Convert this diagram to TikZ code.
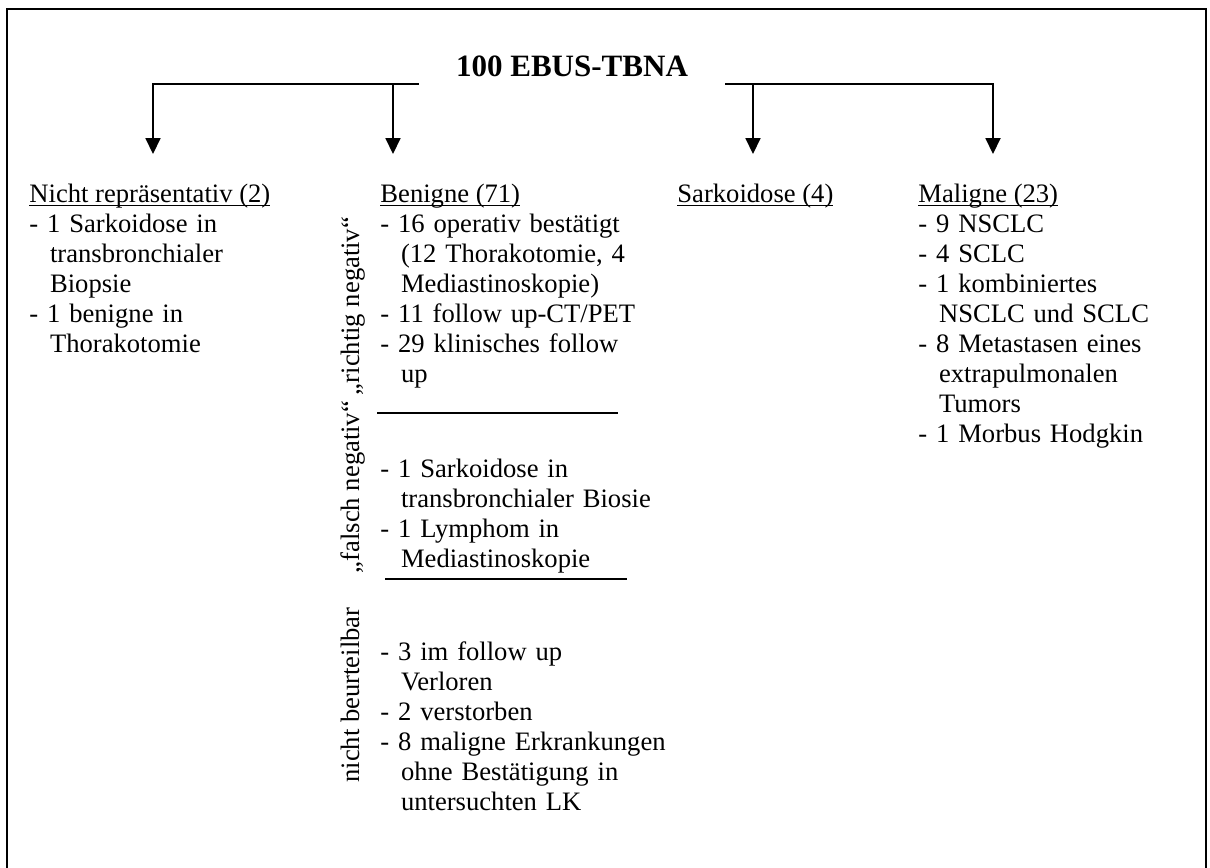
\documentclass[tikz,border=0pt]{standalone}
\usepackage{fontspec}
\setmainfont{Liberation Serif}
\usepackage{tikz}
\usetikzlibrary{arrows.meta,positioning}
\newcommand{\txt}{\fontsize{12}{13.55}\selectfont}
\newcommand{\contind}{\hspace*{9.3pt}}
\newcommand{\headline}[1]{\underline{\smash{#1}}}
\tikzstyle{title} = [anchor=base, inner xsep=16.7pt, inner ysep=3.2pt, font=\bfseries\fontsize{14}{16}\selectfont]
\tikzstyle{head} = [anchor=base west, inner sep=0pt, font=\txt]
\tikzstyle{items} = [anchor=base west, inner sep=0pt, text width=150pt, align=left, font=\txt]
\tikzstyle{side} = [rotate=90, anchor=base, inner sep=0pt, font=\txt]
\tikzstyle{tedge} = [draw, line width=0.7pt, >={Triangle[width=6.8pt,length=7.2pt]}, ->]
\tikzstyle{divider} = [draw, line width=0.8pt]
\tikzstyle{outline} = [draw, line width=0.9pt]

\begin{document}
\begin{tikzpicture}[x=0.451pt, y=-0.451pt]
\useasboundingbox (0,0) rectangle (1210,868);
\draw[outline] (7,868) -- (7,9) -- (1206,9) -- (1206,868);

% root =============================
\node[title] (root) at (572,76) {100 EBUS-TBNA};

% arrow ends
\coordinate (a1) at (153,154);
\coordinate (a2) at (393,154);
\coordinate (a3) at (753,154);
\coordinate (a4) at (993,154);

% nicht repraesentativ
\node[head] (nrep) at (29,202) {\headline{Nicht repräsentativ (2)}};
\node[items, below=13.55pt of nrep.base west, anchor=base west] (nreplist) {- 1 Sarkoidose in\\ \contind transbronchialer\\ \contind Biopsie\\ - 1 benigne in\\ \contind Thorakotomie};

% benigne
\node[head] (benigne) at (380,202) {\headline{Benigne (71)}};
\node[items, below=13.55pt of benigne.base west, anchor=base west] (richtig) {- 16 operativ bestätigt\\ \contind (12 Thorakotomie, 4\\ \contind Mediastinoskopie)\\ - 11 follow up-CT/PET\\ - 29 klinisches follow\\ \contind up};
\node[items] (falsch) at (380,477) {- 1 Sarkoidose in\\ \contind transbronchialer Biosie\\ - 1 Lymphom in\\ \contind Mediastinoskopie};
\node[items] (nbeur) at (380,660) {- 3 im follow up\\ \contind Verloren\\ - 2 verstorben\\ - 8 maligne Erkrankungen\\ \contind ohne Bestätigung in\\ \contind untersuchten LK};

\node[side] (lrichtig) at (359,306) {„richtig negativ“};
\node[side] (lfalsch) at (359,487) {„falsch negativ“};
\node[side] (lnbeur) at (359,695) {nicht beurteilbar};

\draw[divider] (377,413) -- (618,413);
\draw[divider] (385,579) -- (627,579);

% sarkoidose
\node[head] (sarko) at (677,202) {\headline{Sarkoidose (4)}};

% maligne
\node[head] (maligne) at (918,202) {\headline{Maligne (23)}};
\node[items, below=13.55pt of maligne.base west, anchor=base west] (malignelist) {- 9 NSCLC\\ - 4 SCLC\\ - 1 kombiniertes\\ \contind NSCLC und SCLC\\ - 8 Metastasen eines\\ \contind extrapulmonalen\\ \contind Tumors\\ - 1 Morbus Hodgkin};

%edges
\path[tedge] (root.south west) -| (a1);
\path[tedge] (root.south west -| a2) -- (a2);
\path[tedge] (root.south east) -| (a4);
\path[tedge] (root.south east -| a3) -- (a3);

\end{tikzpicture}
\end{document}
